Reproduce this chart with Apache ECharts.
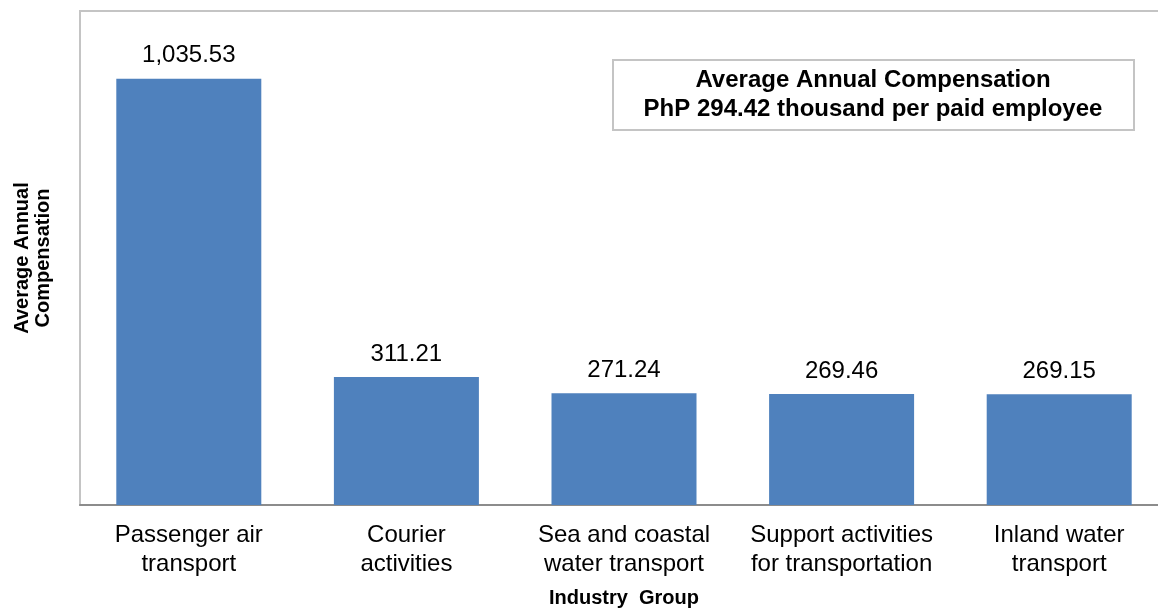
<!DOCTYPE html>
<html>
<head>
<meta charset="utf-8">
<script src="https://cdn.jsdelivr.net/npm/echarts@6/dist/echarts.min.js"></script>
<style>html,body{margin:0;padding:0;background:#fff;}#c{width:1158px;height:608px;}</style>
</head>
<body>
<div id="c"></div>
<script>
var categories = ['Passenger air\ntransport', 'Courier\nactivities', 'Sea and coastal\nwater transport', 'Support activities\nfor transportation', 'Inland water\ntransport'];
var values = [1035.53, 311.21, 271.24, 269.46, 269.15];
var boxLines = ['Average Annual Compensation', 'PhP 294.42 thousand per paid employee'];
var yAxisTitle = 'Average Annual\nCompensation';
var xAxisTitle = 'Industry  Group';

var FONT = '"Liberation Sans", Arial, sans-serif';
var chart = echarts.init(document.getElementById('c'), null, {renderer: 'canvas'});
chart.setOption({
  animation: false,
  grid: {left: 80, right: -10, top: 11, bottom: 103, outerBoundsMode: 'none', containLabel: false,
         show: true, borderColor: '#c4c4c4', borderWidth: 2, backgroundColor: 'transparent'},
  xAxis: {
    type: 'category',
    data: categories,
    axisLine: {show: true, lineStyle: {color: '#8c8c8c', width: 2}},
    axisTick: {show: false},
    axisLabel: {color: '#000', fontFamily: FONT, fontSize: 24, lineHeight: 29, margin: 16, interval: 0, hideOverlap: false},
    name: xAxisTitle,
    nameLocation: 'middle',
    nameGap: 83,
    nameTextStyle: {color: '#000', fontFamily: FONT, fontSize: 20, fontWeight: 'bold', lineHeight: 20}
  },
  yAxis: {
    type: 'value',
    min: 0,
    max: 1200,
    axisLine: {show: false},
    axisTick: {show: false},
    axisLabel: {show: false},
    splitLine: {show: false},
    name: yAxisTitle,
    nameLocation: 'middle',
    nameRotate: 90,
    nameGap: 26,
    nameTextStyle: {color: '#000', fontFamily: FONT, fontSize: 20, fontWeight: 'bold', lineHeight: 21}
  },
  series: [{
    type: 'bar',
    data: values,
    barWidth: 145,
    itemStyle: {color: '#4f81bd'},
    label: {
      show: true,
      position: 'top',
      distance: 11,
      color: '#000',
      fontFamily: FONT,
      fontSize: 24,
      lineHeight: 24,
      formatter: function (p) {
        return p.value.toLocaleString('en-US', {minimumFractionDigits: 2, maximumFractionDigits: 2});
      }
    }
  }],
  graphic: [{
    type: 'group',
    left: 612,
    top: 59,
    children: [{
      type: 'rect',
      shape: {x: 0, y: 0, width: 521, height: 70},
      style: {fill: '#fff', stroke: '#c4c4c4', lineWidth: 2}
    }, {
      type: 'text',
      x: 260,
      y: 35,
      style: {
        text: boxLines.join('\n'),
        fontFamily: FONT,
        fontSize: 24,
        fontWeight: 'bold',
        lineHeight: 29,
        fill: '#000',
        align: 'center',
        verticalAlign: 'middle'
      }
    }]
  }]
});
</script>
</body>
</html>
